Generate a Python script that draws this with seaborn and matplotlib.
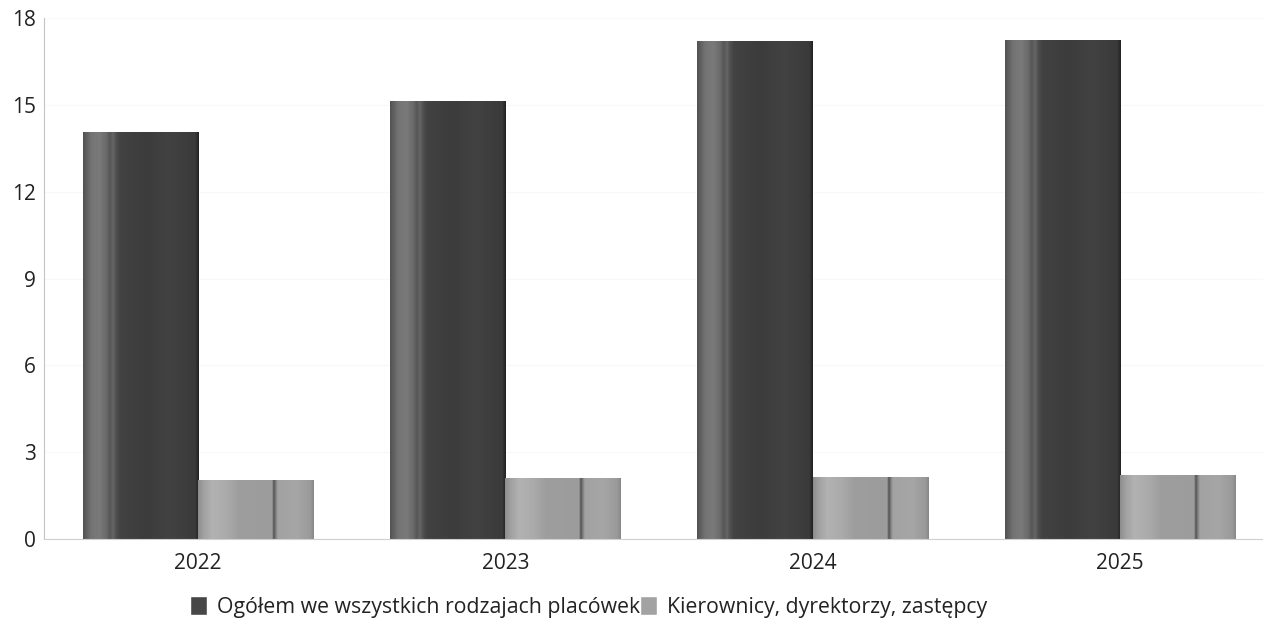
import numpy as np
import pandas as pd
import matplotlib
matplotlib.use("Agg")
import matplotlib.pyplot as plt
import seaborn as sns

# Data
years = ["2022", "2023", "2024", "2025"]
ogolem = [14.05, 15.15, 17.2, 17.25]
kierownicy = [2.05, 2.1, 2.14, 2.2]
series_names = ["Ogółem we wszystkich rodzajach placówek", "Kierownicy, dyrektorzy, zastępcy"]
y_ticks = [0, 3, 6, 9, 12, 15, 18]

df = pd.DataFrame({
    "rok": years * 2,
    "wartosc": ogolem + kierownicy,
    "seria": [series_names[0]] * len(years) + [series_names[1]] * len(years),
})

sns.set_theme(style="white")
plt.rcParams["font.family"] = ["Open Sans", "DejaVu Sans"]

fig = plt.figure(figsize=(12.63, 6.2), dpi=100)
ax = fig.add_axes([0.0352, 0.1306, 0.9648, 0.8403])

palette = {series_names[0]: "#474747", series_names[1]: "#a2a2a2"}
sns.barplot(data=df, x="rok", y="wartosc", hue="seria", palette=palette,
            width=0.75, saturation=1, ax=ax, legend=True)

# Shaded, cylinder-like fill for the bars
dark_stops = ([0.0, 0.03, 0.07, 0.14, 0.20, 0.23, 0.26, 0.28, 0.32, 0.55, 0.75, 0.97, 1.0],
              [0x52, 0x60, 0x74, 0x7a, 0x6a, 0x56, 0x66, 0x52, 0x42, 0x3c, 0x42, 0x3a, 0x22])
light_stops = ([0.0, 0.05, 0.12, 0.25, 0.35, 0.64, 0.655, 0.67, 0.69, 0.85, 0.97, 1.0],
               [0x8e, 0xa2, 0xb2, 0xaa, 0x9e, 0x9c, 0x50, 0x7a, 0xa2, 0xa6, 0x9a, 0x88])
xs = np.linspace(0, 1, 200)

def shade(stops):
    g = np.interp(xs, stops[0], stops[1]) / 255.0
    return np.dstack([g, g, g])[0][None, :, :]

dark_img = shade(dark_stops)
light_img = shade(light_stops)

n = len(years)
for i, patch in enumerate(ax.patches[: 2 * n]):
    x0 = patch.get_x()
    w = patch.get_width()
    h = patch.get_height()
    img = dark_img if i < n else light_img
    im = ax.imshow(img, extent=(x0, x0 + w, 0, h), aspect="auto",
                   interpolation="bilinear", zorder=patch.get_zorder() + 0.1)
    im.set_clip_path(patch)

ax.set_xlim(-0.5, 3.466)
ax.set_ylim(0, 18)
ax.set_yticks(y_ticks)
ax.set_yticklabels([str(t) for t in y_ticks])
ax.set_xlabel("")
ax.set_ylabel("")
ax.tick_params(axis="both", labelsize=15, colors="#222222", length=0, pad=6)
ax.tick_params(axis="x", pad=10)
ax.yaxis.grid(True, color="#f8f8f8", linewidth=0.8)
ax.set_axisbelow(True)

for side in ["top", "right"]:
    ax.spines[side].set_visible(False)
ax.spines["left"].set_color("#c4c4c4")
ax.spines["bottom"].set_color("#d0d0d0")
ax.spines["left"].set_linewidth(0.8)
ax.spines["bottom"].set_linewidth(0.8)

handles, labels = ax.get_legend_handles_labels()
ax.get_legend().remove()
fig.legend(handles, labels, loc="lower center", bbox_to_anchor=(0.466, -0.027),
           ncol=2, frameon=False, fontsize=15.3, handlelength=0.8, handleheight=1.0,
           handletextpad=0.45, columnspacing=0.0, labelcolor="#222222")

fig.savefig("out.png", dpi=100)
